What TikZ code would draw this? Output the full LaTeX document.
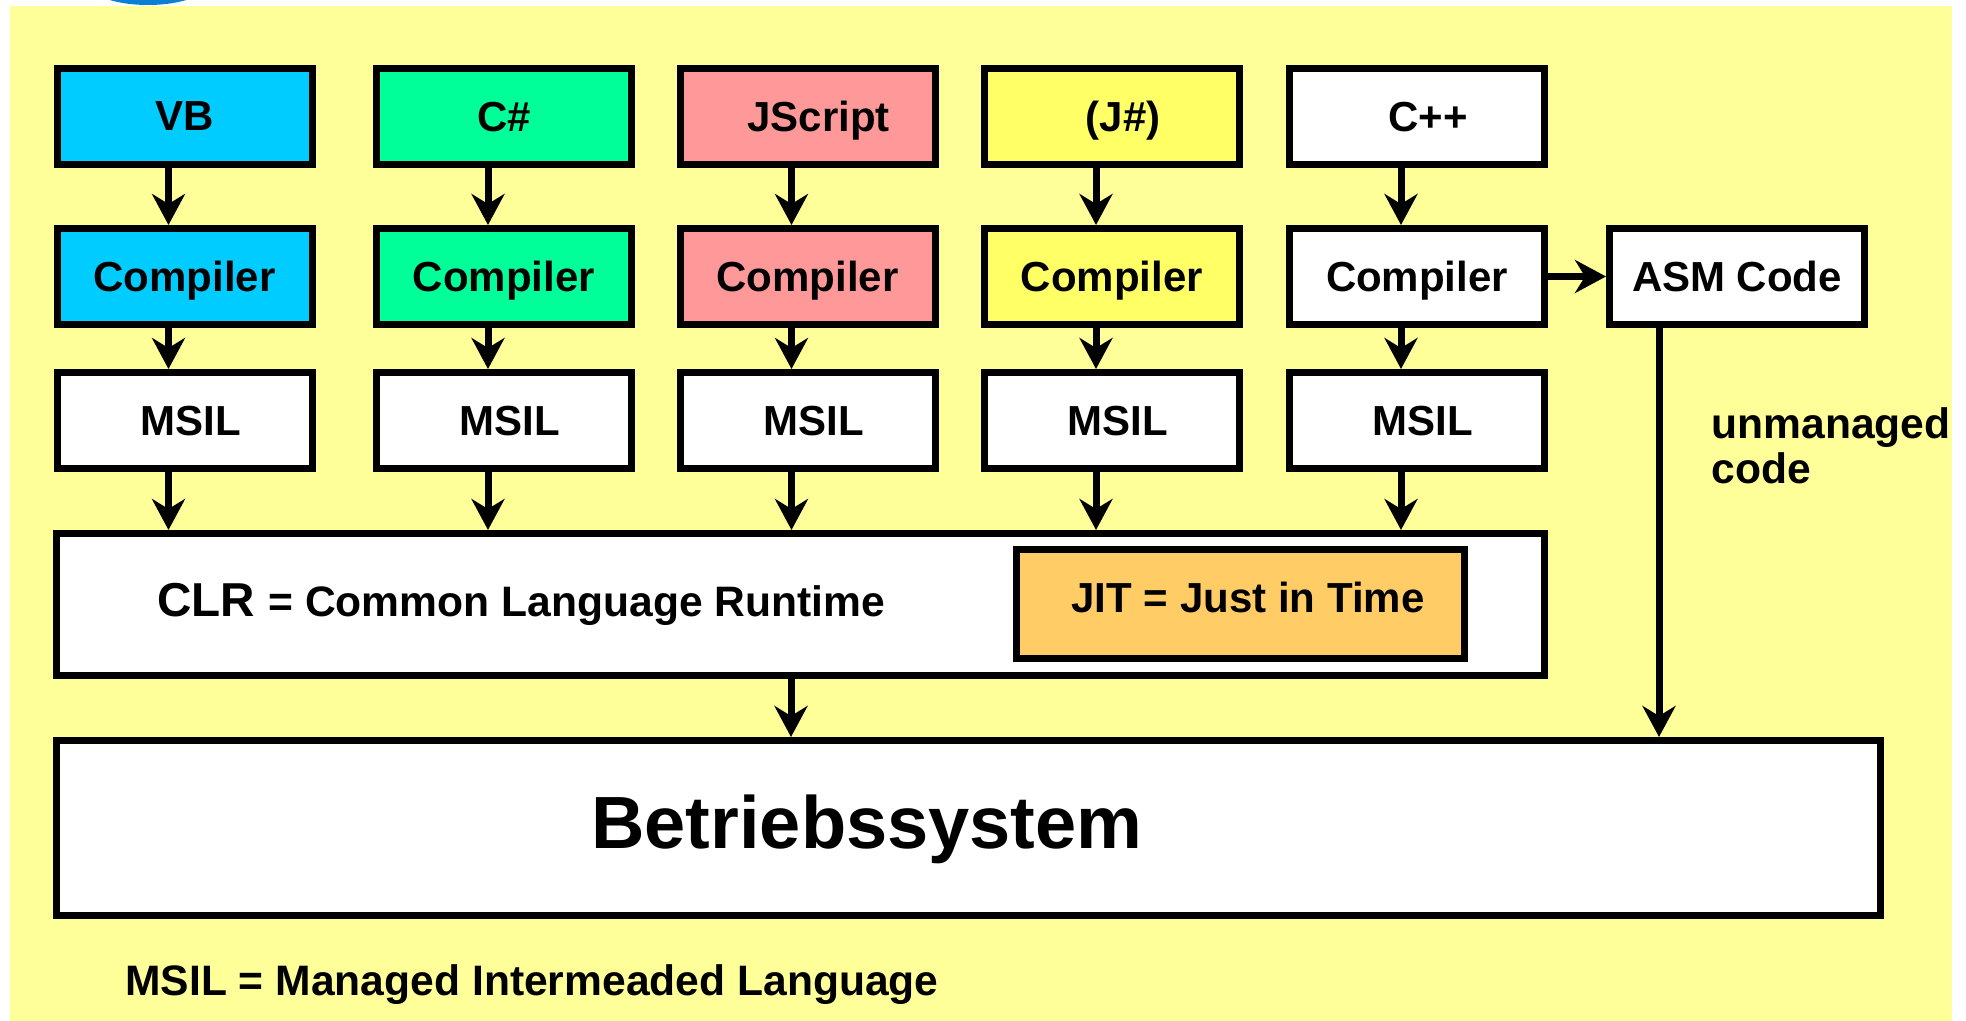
\documentclass[tikz,border=0pt]{standalone}
\usepackage{fontspec}
\setmainfont{Liberation Sans}
\usetikzlibrary{arrows.meta}

\definecolor{bgyellow}{RGB}{255,255,153}
\definecolor{vbblue}{RGB}{0,204,255}
\definecolor{csgreen}{RGB}{0,255,153}
\definecolor{jsred}{RGB}{255,153,153}
\definecolor{jshyellow}{RGB}{255,255,102}
\definecolor{jitorange}{RGB}{255,204,102}
\definecolor{topblue}{RGB}{10,127,212}

\tikzset{
    box/.style={draw=black, line width=3.5pt, fill=white, inner sep=0pt,
        minimum width=127.5pt, minimum height=48pt, text depth=0pt,
        font=\fontsize{21}{25}\selectfont\bfseries},
    pushright/.style={execute at begin node=\hspace*{#1}},
    lbl/.style={inner sep=0pt, font=\fontsize{21.3}{22.5}\selectfont\bfseries},
    arr/.style={line width=3.5pt, -{Stealth[length=15.5pt, width=16.5pt, inset=5pt]}}
}

\begin{document}
\begin{tikzpicture}[x=0.5pt, y=-0.5pt]
    \useasboundingbox (0,0) rectangle (1966,1021);
    \clip (0,0) rectangle (1966,1021);

    % Background
    \fill[topblue] (148,-20) ellipse [x radius=64, y radius=25];
    \fill[bgyellow] (10,6) rectangle (1952,1021);

    % Languages
    \node[box, fill=vbblue] (vb) at (184.5,116.5) {VB};
    \node[box, fill=csgreen] (cs) at (504,116.5) {C\#};
    \node[box, fill=jsred, pushright=11pt] (js) at (807.5,116.5) {JScript};
    \node[box, fill=jshyellow, pushright=11pt] (jsh) at (1112,116.5) {(J\#)};
    \node[box, pushright=11pt] (cpp) at (1417,116.5) {C++};

    % Compilers
    \node[box, fill=vbblue] (vb-comp) at (184.5,276.5) {Compiler};
    \node[box, fill=csgreen] (cs-comp) at (504,276.5) {Compiler};
    \node[box, fill=jsred] (js-comp) at (807.5,276.5) {Compiler};
    \node[box, fill=jshyellow] (jsh-comp) at (1112,276.5) {Compiler};
    \node[box] (cpp-comp) at (1417,276.5) {Compiler};
    \node[box] (asm) at (1737,276.5) {ASM Code};

    % Intermediate code
    \node[box, pushright=6pt] (vb-msil) at (184.5,420.5) {MSIL};
    \node[box, pushright=6pt] (cs-msil) at (504,420.5) {MSIL};
    \node[box, pushright=6pt] (js-msil) at (807.5,420.5) {MSIL};
    \node[box, pushright=6pt] (jsh-msil) at (1112,420.5) {MSIL};
    \node[box, pushright=6pt] (cpp-msil) at (1417,420.5) {MSIL};

    % Runtime
    \node[box, minimum width=744pt, minimum height=71pt] (clr) at (800.5,604.5) {};
    \node[lbl, anchor=base west] (clr-text) at (157,617)
        {\fontsize{23.8}{25}\selectfont CLR \fontsize{21.3}{25}\selectfont = Common Language Runtime};
    \node[box, fill=jitorange, minimum width=224pt, minimum height=54.5pt,
        text depth=7pt, pushright=7.5pt] (jit) at (1240.5,604) {JIT = Just in Time};

    % Operating system
    \node[box, minimum width=912pt, minimum height=87.5pt] (os) at (968.5,828) {};
    \node[inner sep=0pt, anchor=base, font=\fontsize{37}{40}\selectfont\bfseries] (os-text) at (867,848) {Betriebssystem};

    % Labels
    \node[lbl, anchor=north west, align=left] (unmanaged) at (1711,407) {unmanaged\\code};
    \node[lbl, anchor=base west] (legend) at (125,995) {MSIL = Managed Intermeaded Language};

    % Arrows language -> compiler
    \draw[arr] ([xshift=-8pt]vb.south) -- ([xshift=-8pt]vb-comp.north);
    \draw[arr] ([xshift=-8pt]cs.south) -- ([xshift=-8pt]cs-comp.north);
    \draw[arr] ([xshift=-8pt]js.south) -- ([xshift=-8pt]js-comp.north);
    \draw[arr] ([xshift=-8pt]jsh.south) -- ([xshift=-8pt]jsh-comp.north);
    \draw[arr] ([xshift=-8pt]cpp.south) -- ([xshift=-8pt]cpp-comp.north);

    % Arrows compiler -> MSIL
    \draw[arr] ([xshift=-8pt]vb-comp.south) -- ([xshift=-8pt]vb-msil.north);
    \draw[arr] ([xshift=-8pt]cs-comp.south) -- ([xshift=-8pt]cs-msil.north);
    \draw[arr] ([xshift=-8pt]js-comp.south) -- ([xshift=-8pt]js-msil.north);
    \draw[arr] ([xshift=-8pt]jsh-comp.south) -- ([xshift=-8pt]jsh-msil.north);
    \draw[arr] ([xshift=-8pt]cpp-comp.south) -- ([xshift=-8pt]cpp-msil.north);
    \draw[arr] (cpp-comp.east) -- (asm.west);

    % Arrows MSIL -> CLR
    \draw[arr] ([xshift=-8pt]vb-msil.south) -- ([xshift=-8pt]vb-msil.south |- clr.north);
    \draw[arr] ([xshift=-8pt]cs-msil.south) -- ([xshift=-8pt]cs-msil.south |- clr.north);
    \draw[arr] ([xshift=-8pt]js-msil.south) -- ([xshift=-8pt]js-msil.south |- clr.north);
    \draw[arr] ([xshift=-8pt]jsh-msil.south) -- ([xshift=-8pt]jsh-msil.south |- clr.north);
    \draw[arr] ([xshift=-8pt]cpp-msil.south) -- ([xshift=-8pt]cpp-msil.south |- clr.north);

    % Arrows down to the operating system
    \draw[arr] ([xshift=-4.75pt]clr.south) -- ([xshift=-4.75pt]clr.south |- os.north);
    \draw[arr] ([xshift=-39pt]asm.south) -- ([xshift=-39pt]asm.south |- os.north);
\end{tikzpicture}
\end{document}
